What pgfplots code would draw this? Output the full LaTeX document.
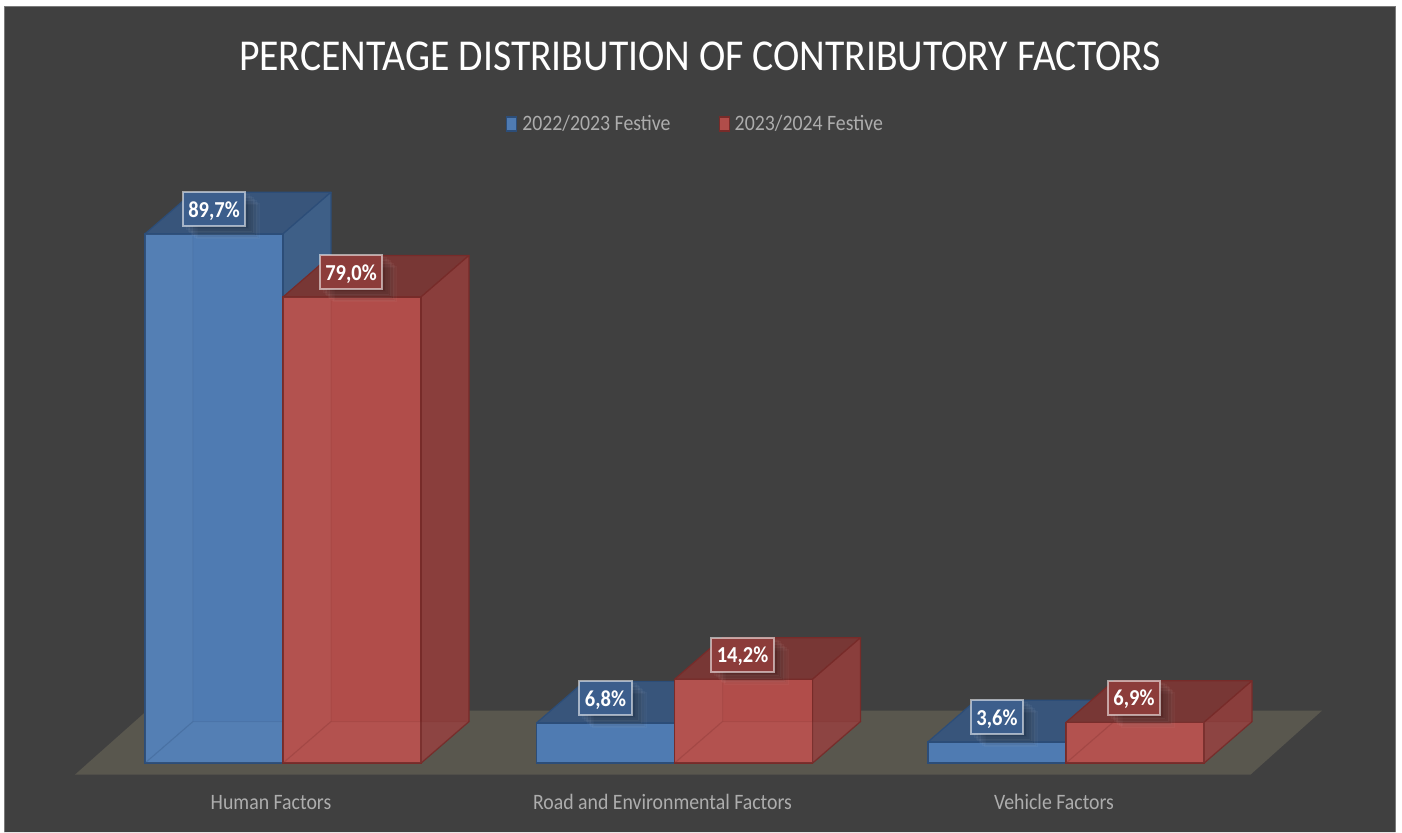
\documentclass[border=0pt]{standalone}
\usepackage{fontspec}
\setmainfont{Carlito}[FakeStretch=0.9]
\usepackage{pgfplots}
\pgfplotsset{compat=1.18}
\usetikzlibrary{shadows}
\definecolor{bg}{HTML}{404040}
\definecolor{edgegrey}{HTML}{7A7A7A}
\definecolor{floorc}{HTML}{59574E}
\definecolor{bfront}{HTML}{4F7BB2}
\definecolor{bside}{HTML}{3E5F87}
\definecolor{btop}{HTML}{38557B}
\definecolor{bedge}{HTML}{2C4D78}
\definecolor{rfront}{HTML}{B14D4A}
\definecolor{rside}{HTML}{8A3E3C}
\definecolor{rtop}{HTML}{783735}
\definecolor{redge}{HTML}{772B29}
\definecolor{lab}{HTML}{ADADAD}
\definecolor{bval}{HTML}{3C5E8C}
\definecolor{rval}{HTML}{8C3C3A}
\pgfplotsset{
  topb/.style={forget plot,fill=btop,draw=bedge,line width=1.2pt,line join=round},
  sideb/.style={forget plot,fill=bside,draw=bedge,line width=1.2pt,line join=round},
  topr/.style={forget plot,fill=rtop,draw=redge,line width=1.2pt,line join=round},
  sider/.style={forget plot,fill=rside,draw=redge,line width=1.2pt,line join=round},
  inner/.style={forget plot,fill=white,fill opacity=.03,draw=#1,draw opacity=.15,line width=1pt},
  vallab/.style 2 args={
    nodes near coords={\pgfmathprintnumber[fixed,fixed zerofill,precision=1,use comma,assume math mode=true]{\pgfplotspointmeta}\%},
    every node near coord/.append style={anchor=center,yshift=24.5pt,xshift=#2,text=white,
      font=\bfseries\fontsize{22.8}{24}\selectfont,
      draw=white,draw opacity=.55,line width=2pt,inner xsep=5.5pt,inner ysep=0pt,
      text height=19pt,text depth=3pt,minimum height=34pt,fill=#1,
      general shadow={shadow xshift=14pt,shadow yshift=-12pt,fill=black,opacity=.03},
      general shadow={shadow xshift=12pt,shadow yshift=-10.5pt,fill=black,opacity=.035},
      general shadow={shadow xshift=10.5pt,shadow yshift=-9pt,fill=black,opacity=.04},
      general shadow={shadow xshift=9pt,shadow yshift=-7.5pt,fill=black,opacity=.04},
      general shadow={shadow xshift=7.5pt,shadow yshift=-6pt,fill=black,opacity=.04},
      general shadow={shadow xshift=6pt,shadow yshift=-4.5pt,fill=black,opacity=.04},
      general shadow={shadow xshift=4pt,shadow yshift=-3pt,fill=black,opacity=.04}},
  },
  valb/.style={forget plot,ybar,bar width=0.3525,bar shift=-0.17625,fill=bfront,draw=bedge,line width=1.3pt,vallab={bval}{-69pt}},
  valr/.style={forget plot,ybar,bar width=0.3525,bar shift=0.17625,fill=rfront,draw=redge,line width=1.3pt,vallab={rval}{68pt}},
}
\begin{document}
\begin{tikzpicture}
\begin{axis}[
  scale only axis,
  width=1402pt,height=832pt,
  xmin=-0.72286,xmax=2.85824,
  ymin=-11.695,ymax=129.322,
  axis background/.style={fill=white},
  axis line style={draw=none},
  axis on top,
  major tick length=0pt,
  ytick=\empty,
  xtick={0,1,2},
  xticklabels={Human Factors,Road and Environmental Factors,Vehicle Factors},
  typeset ticklabels with strut,
  xticklabel style={font=\fontsize{22}{24}\selectfont,text=lab,xshift=-12pt,yshift=43pt},
  clip=false,
  title={PERCENTAGE DISTRIBUTION OF CONTRIBUTORY FACTORS},
  title style={at={(0.4993,0.9255)},anchor=center,text=white,font=\fontsize{44.1}{46}\selectfont},
  legend columns=2,
  legend style={at={(0.4961,0.851)},anchor=center,draw=none,fill=none,text=lab,
    font=\fontsize{22}{24}\selectfont,
    /tikz/every odd column/.append style={column sep=3pt},
    /tikz/every even column/.append style={column sep=46pt}},
  legend cell align=left,
  legend image code/.code={\draw[#1,line width=1.2pt] (0pt,-7pt) rectangle (10pt,7pt);},
]
% slide and floor
\addplot[forget plot,fill=bg,draw=none] coordinates {(-0.7126,-11.695)(-0.7126,128.3)(2.8416,128.3)(2.8416,-11.695)(-0.7126,-11.695)};
\addplot[forget plot,draw=edgegrey,line width=1pt] coordinates {(-0.7126,-11.695)(-0.7126,128.3)(2.8416,128.3)(2.8416,-11.695)};
\addplot[forget plot,fill=floorc,draw=none] coordinates {(-0.5313,-1.95)(2.4713,-1.95)(2.6539,8.9)(-0.3474,8.9)(-0.5313,-1.95)};
\addlegendimage{fill=bfront,draw=bedge}
\addlegendentry{2022/2023 Festive}
\addlegendimage{fill=rfront,draw=redge}
\addlegendentry{2023/2024 Festive}

% Human: blue
\addplot[topb] coordinates {(-0.3525,89.7)(0,89.7)(0.1226,96.75)(-0.2299,96.75)(-0.3525,89.7)};
\addplot[sideb] coordinates {(0,0)(0.1226,7.05)(0.1226,96.75)(0,89.7)(0,0)};
\addplot[valb] coordinates {(0,89.7)};
\addplot[inner=bedge] coordinates {(-0.3525,0)(-0.2299,7.05)(-0.2299,89.7)(-0.3525,89.7)(-0.3525,0)};
\addplot[inner=bedge] coordinates {(-0.3525,0)(0,0)(0.1226,7.05)(-0.2299,7.05)(-0.3525,0)};
% Human: red
\addplot[topr] coordinates {(0,79)(0.3525,79)(0.4751,86.05)(0.1226,86.05)(0,79)};
\addplot[sider] coordinates {(0.3525,0)(0.4751,7.05)(0.4751,86.05)(0.3525,79)(0.3525,0)};
\addplot[valr] coordinates {(0,79)};
\addplot[inner=redge] coordinates {(0,0)(0.1226,7.05)(0.1226,79)(0,79)(0,0)};
\addplot[inner=redge] coordinates {(0,0)(0.3525,0)(0.4751,7.05)(0.1226,7.05)(0,0)};

% Road: blue
\addplot[topb] coordinates {(0.6475,6.8)(1,6.8)(1.1226,13.85)(0.7701,13.85)(0.6475,6.8)};
\addplot[sideb] coordinates {(1,0)(1.1226,7.05)(1.1226,13.85)(1,6.8)(1,0)};
\addplot[valb] coordinates {(1,6.8)};
% Road: red
\addplot[topr] coordinates {(1,14.2)(1.3525,14.2)(1.4751,21.25)(1.1226,21.25)(1,14.2)};
\addplot[sider] coordinates {(1.3525,0)(1.4751,7.05)(1.4751,21.25)(1.3525,14.2)(1.3525,0)};
\addplot[valr] coordinates {(1,14.2)};
\addplot[inner=redge] coordinates {(1,0)(1.1226,7.05)(1.1226,14.2)(1,14.2)(1,0)};
\addplot[inner=redge] coordinates {(1,0)(1.3525,0)(1.4751,7.05)(1.1226,7.05)(1,0)};

% Vehicle: blue
\addplot[topb] coordinates {(1.6475,3.6)(2,3.6)(2.1226,10.65)(1.7701,10.65)(1.6475,3.6)};
\addplot[sideb] coordinates {(2,0)(2.1226,7.05)(2.1226,10.65)(2,3.6)(2,0)};
\addplot[valb] coordinates {(2,3.6)};
% Vehicle: red
\addplot[topr] coordinates {(2,6.9)(2.3525,6.9)(2.4751,13.95)(2.1226,13.95)(2,6.9)};
\addplot[sider] coordinates {(2.3525,0)(2.4751,7.05)(2.4751,13.95)(2.3525,6.9)(2.3525,0)};
\addplot[valr] coordinates {(2,6.9)};
\addplot[inner=redge] coordinates {(2,0)(2.1226,7.05)(2.1226,6.9)(2,6.9)(2,0)};
\addplot[inner=redge] coordinates {(2,0)(2.3525,0)(2.4751,7.05)(2.1226,7.05)(2,0)};
\end{axis}
\end{tikzpicture}
\end{document}
